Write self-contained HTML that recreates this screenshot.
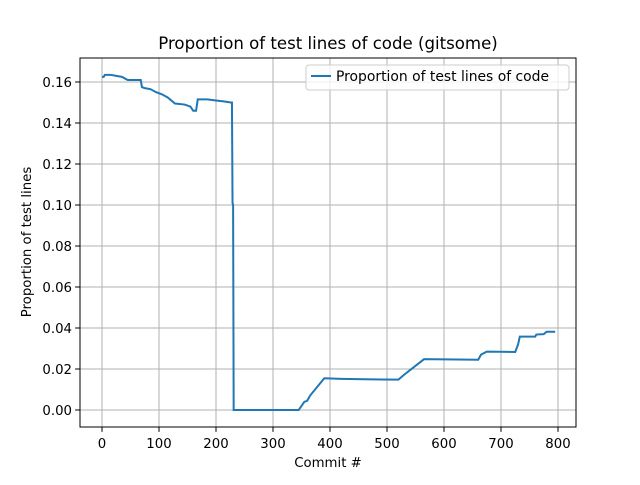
<!DOCTYPE html>
<html><head><meta charset="utf-8"><style>
body{margin:0;background:#fff}
svg text{font-family:"DejaVu Sans","Liberation Sans",sans-serif;fill:#000}
</style></head><body>
<svg id="c" width="640" height="480"></svg>
<script>
const xs=[0,3,5,15,25,35,45,68,70,75,85,95,105,115,128,145,155,160,165,168,185,200,215,226,228,229,230,231,345,350,355,360,365,390,420,460,520,530,565,660,665,675,725,730,733,760,762,775,780,795];
const ys=[0.1625,0.1625,0.1635,0.1635,0.163,0.1625,0.161,0.161,0.1575,0.157,0.1565,0.155,0.154,0.1525,0.1495,0.149,0.148,0.146,0.146,0.1515,0.1515,0.151,0.1505,0.150,0.150,0.101,0.10,0,0,0.002,0.004,0.0045,0.007,0.0155,0.0152,0.015,0.0148,0.0172,0.0248,0.0245,0.027,0.0285,0.0283,0.032,0.0358,0.0358,0.0368,0.037,0.0382,0.0382];
const xticks=[0,100,200,300,400,500,600,700,800];
const yticks=[0,0.02,0.04,0.06,0.08,0.10,0.12,0.14,0.16];
const L=80,R=576,T=58,B=427;
const X=v=>102+v*(558-102)/800;
const Y=v=>410-v*(410-82)/0.16;
const s=document.getElementById('c');const NS='http://www.w3.org/2000/svg';
function el(t,a,txt){const e=document.createElementNS(NS,t);for(const k in a)e.setAttribute(k,a[k]);if(txt!==undefined)e.textContent=txt;s.appendChild(e);return e;}
xticks.forEach(v=>{const x=X(v);
const g=el('line',{x1:x,x2:x,y1:T,y2:B,stroke:'#b0b0b0','stroke-width':1});

el('line',{x1:x,x2:x,y1:B,y2:B+4.9,stroke:'#000','stroke-width':1});
const t=el('text',{x:x,y:B+21,'text-anchor':'middle','font-size':13.3},String(v));
});
yticks.forEach(v=>{const y=Y(v);
const g=el('line',{x1:L,x2:R,y1:y,y2:y,stroke:'#b0b0b0','stroke-width':1});

el('line',{x1:L-4.9,x2:L,y1:y,y2:y,stroke:'#000','stroke-width':1});
const t=el('text',{x:L-8,y:y+4.8,'text-anchor':'end','font-size':13.3},v.toFixed(2));
});
const p=el('polyline',{points:xs.map((x,i)=>X(x)+','+Y(ys[i])).join(' '),fill:'none',stroke:'#1f77b4','stroke-width':2});

const fr=el('rect',{x:L,y:T,width:R-L,height:B-T,fill:'none',stroke:'#000','stroke-width':1});

const ti=el('text',{x:328,y:49,'text-anchor':'middle','font-size':16.6},'Proportion of test lines of code (gitsome)');

const xl=el('text',{x:328,y:467,'text-anchor':'middle','font-size':13.3},'Commit #');

const yl=el('text',{x:0,y:0,'text-anchor':'middle','font-size':13.3,transform:'translate(31,242) rotate(-90)'},'Proportion of test lines');

const lg=el('rect',{x:306,y:65,width:263,height:25,rx:3,fill:'#fff','fill-opacity':0.8,stroke:'#ccc','stroke-width':1});

el('line',{x1:311,x2:331,y1:76,y2:76,stroke:'#1f77b4','stroke-width':2});
const lt=el('text',{x:336,y:81,'font-size':13.9},'Proportion of test lines of code');

</script>
</body></html>
